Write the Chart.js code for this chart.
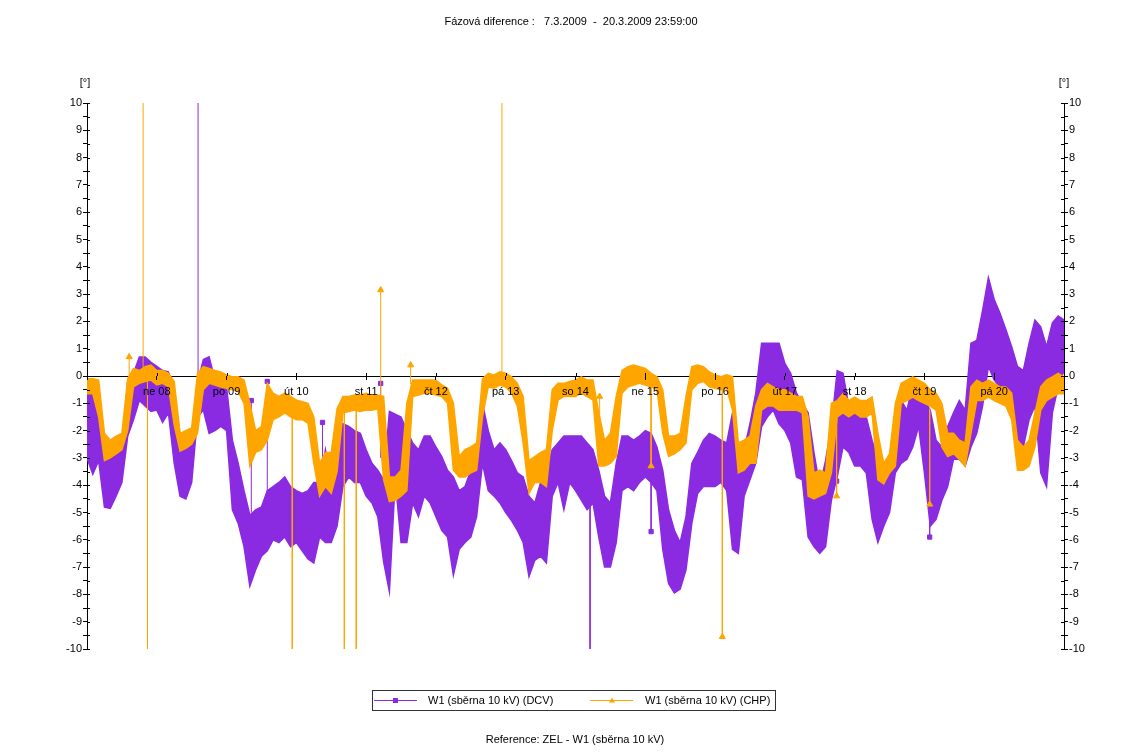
<!DOCTYPE html>
<html lang="cs">
<head>
<meta charset="utf-8">
<title>Fázová diference</title>
<script src="https://cdn.jsdelivr.net/npm/chart.js@4.4.1/dist/chart.umd.min.js"></script>
<style>
    html, body { margin: 0; padding: 0; background: #ffffff; }
    #wrap { position: relative; width: 1135px; height: 754px; }
</style>
</head>
<body>
<div id="wrap"><canvas id="phaseChart" width="1135" height="754"></canvas></div>
<script>
// Sampling step of the band arrays (hours from 7.3.2009 00:00)
const STEP_HOURS = 2;
const HOURS_TOTAL = 336;

// Day labels at every midnight (first and last tick unlabeled)
const dayLabels = ['', 'ne 08', 'po 09', 'út 10', 'st 11', 'čt 12', 'pá 13', 'so 14',
    'ne 15', 'po 16', 'út 17', 'st 18', 'čt 19', 'pá 20', ''];

// W1 (CHP) - upper / lower edge of the band, one row per day (12 x 2h)
const chpHigh = [
    -0.1, -0.1, -0.15, -2.1, -2.35, -2.2, -2.1, -0.1, 0.28, 0.2, 0.34, 0.4,
    0.2, 0.2, 0.1, -0.2, -2.1, -2.0, -1.9, 0.1, 0.34, 0.28, 0.2, 0.15,
    0.04, -0.03, -0.03, -0.15, -1.0, -2.0, -1.85, -0.27, -0.63, -0.75, -0.63, -0.75,
    -0.88, -0.94, -1.0, -1.5, -3.2, -2.8, -2.8, -1.2, -0.75, -0.75, -0.7, -0.7,
    -0.63, -0.7, -0.7, -0.75, -3.7, -3.7, -3.45, -1.0, -0.15, -0.15, -0.15, -0.15,
    -0.15, -0.33, -0.45, -1.0, -2.95, -2.7, -2.6, -2.45, -0.1, 0.1, 0.04, 0.15,
    0.1, -0.03, -0.27, -0.75, -3.1, -2.95, -2.8, -2.7, -0.5, -0.27, -0.27, -0.2,
    -0.15, -0.03, -0.15, -0.15, -1.35, -2.35, -2.1, -0.75, 0.2, 0.34, 0.4, 0.34,
    0.28, 0.1, -0.03, -0.5, -2.2, -2.2, -2.1, -0.75, 0.34, 0.4, 0.34, 0.15,
    0.04, -0.03, 0.04, -0.03, -2.45, -2.35, -2.2, -1.1, -0.5, -0.27, -0.4, -0.5,
    -0.5, -0.63, -0.75, -0.75, -1.5, -3.55, -3.45, -3.55, -1.0, -0.9, -0.65, -0.9,
    -0.77, -0.9, -0.9, -0.77, -2.1, -3.2, -2.85, -1.0, -0.27, -0.15, -0.03, -0.15,
    -0.27, -0.5, -0.63, -1.0, -2.1, -2.1, -2.35, -2.45, -0.4, -0.15, -0.27, -0.15,
    -0.27, -0.4, -0.4, -0.63, -2.35, -2.6, -2.35, -1.35, -0.4, -0.15, -0.03, 0.1,
    -0.03
];
const chpLow = [
    -0.65, -0.65, -1.5, -3.1, -3.0, -2.85, -2.7, -2.0, -0.4, -0.27, -0.2, -0.15,
    -0.33, -0.27, -0.4, -1.8, -2.75, -2.65, -2.5, -2.1, -0.5, -0.27, -0.33, -0.4,
    -0.45, -0.5, -0.57, -1.0, -3.3, -2.8, -2.7, -2.35, -1.6, -1.5, -1.35, -1.5,
    -1.6, -1.6, -1.73, -3.2, -4.4, -4.05, -4.3, -3.5, -1.35, -1.3, -1.25, -1.3,
    -1.25, -1.25, -1.2, -3.8, -4.6, -4.55, -4.4, -4.2, -0.75, -0.7, -0.63, -0.63,
    -0.7, -0.75, -1.0, -3.45, -3.7, -3.7, -3.55, -3.45, -1.5, -0.4, -0.45, -0.33,
    -0.4, -0.63, -1.1, -2.45, -4.3, -3.9, -3.9, -4.05, -2.0, -0.88, -0.75, -0.75,
    -0.75, -0.63, -0.75, -0.88, -3.3, -3.3, -3.2, -2.95, -0.63, -0.4, -0.33, -0.27,
    -0.33, -0.4, -0.5, -2.1, -2.95, -2.85, -2.7, -2.45, -0.5, -0.27, -0.2, -0.4,
    -0.45, -0.5, -0.45, -1.25, -3.55, -3.45, -3.2, -3.2, -1.25, -1.1, -1.1, -1.25,
    -1.25, -1.25, -1.25, -1.35, -4.4, -4.5, -4.4, -4.3, -3.55, -1.5, -1.35, -1.5,
    -1.35, -1.5, -1.5, -1.35, -3.8, -3.95, -3.55, -3.3, -1.0, -0.9, -0.77, -0.9,
    -1.0, -1.1, -1.25, -2.6, -2.95, -2.85, -3.05, -3.3, -2.1, -0.9, -0.9, -0.77,
    -0.9, -1.0, -1.1, -1.6, -3.45, -3.45, -3.3, -2.6, -1.25, -0.9, -0.77, -0.65,
    -0.65
];

// W1 (DCV) - upper / lower edge of the band
const dcvHigh = [
    -0.6, -0.6, -0.75, -2.3, -2.95, -2.7, -2.6, -0.2, 0.1, 0.7, 0.7, 0.5,
    0.35, 0.2, 0.15, -0.5, -2.2, -2.35, -2.2, -0.27, 0.6, 0.7, -0.15, -0.27,
    -0.4, -2.35, -3.2, -4.2, -5.1, -4.9, -4.8, -4.2, -4.05, -3.9, -3.7, -4.05,
    -4.2, -4.3, -4.2, -3.9, -3.9, -2.7, -3.9, -2.0, -1.75, -1.85, -2.0, -2.1,
    -2.7, -3.2, -3.45, -3.8, -1.3, -1.4, -1.5, -2.0, -2.45, -2.7, -2.2, -2.2,
    -2.6, -2.95, -3.45, -3.7, -4.2, -4.05, -3.45, -2.95, -1.0, -2.0, -2.7, -2.45,
    -2.7, -3.1, -3.55, -3.7, -4.4, -4.65, -3.9, -3.45, -2.7, -2.45, -2.2, -2.2,
    -2.2, -2.2, -2.45, -2.7, -3.45, -4.4, -4.65, -3.2, -2.2, -2.2, -2.35, -2.2,
    -2.0, -2.1, -2.6, -3.45, -4.9, -5.65, -6.1, -5.15, -3.2, -2.8, -2.35, -2.1,
    -2.2, -2.35, -2.45, -1.35, -3.2, -2.7, -1.75, -0.63, 1.2, 1.2, 1.2, 1.2,
    0.46, 0.1, -0.63, -1.0, -1.35, -2.8, -4.05, -3.1, -1.85, 0.2, 0.1, -1.1,
    -1.35, -1.1, -1.5, -2.35, -3.1, -3.35, -3.1, -1.85, -0.9, -1.25, -0.27, -0.4,
    -0.9, -1.25, -2.35, -2.6, -1.85, -1.35, -0.9, -1.25, 1.2, 1.3, 2.4, 3.6,
    2.8, 2.3, 1.7, 1.07, 0.35, 0.2, 1.2, 2.05, 1.8, 1.07, 1.95, 2.2,
    2.05
];
const dcvLow = [
    -3.0, -3.6, -3.1, -4.8, -4.85, -4.4, -3.9, -2.2, -1.6, -0.9, -1.1, -1.3,
    -1.25, -1.7, -1.35, -3.2, -4.4, -4.5, -3.9, -1.5, -1.25, -2.1, -2.0, -1.85,
    -2.0, -4.9, -5.4, -6.25, -7.7, -7.1, -6.6, -6.4, -6.0, -6.1, -5.9, -6.25,
    -6.1, -6.4, -6.7, -6.85, -5.9, -6.1, -6.1, -5.5, -4.05, -3.7, -3.9, -3.9,
    -4.4, -4.65, -5.15, -6.8, -7.9, -3.8, -6.1, -6.1, -4.65, -5.15, -4.4, -4.65,
    -5.15, -5.65, -5.9, -7.3, -6.35, -6.1, -5.9, -5.15, -3.2, -4.2, -4.4, -4.65,
    -5.0, -5.3, -5.65, -6.1, -7.35, -6.75, -6.6, -6.85, -4.4, -3.9, -4.9, -3.9,
    -4.2, -4.55, -4.9, -4.65, -5.9, -7.0, -7.0, -6.1, -4.2, -4.05, -4.2, -3.9,
    -3.7, -3.9, -4.2, -6.35, -7.6, -7.95, -7.8, -7.1, -5.4, -4.3, -4.05, -4.05,
    -4.05, -3.9, -4.2, -6.35, -6.5, -4.4, -3.8, -3.2, -1.85, -1.5, -1.25, -1.75,
    -2.0, -2.45, -3.7, -3.8, -5.9, -6.25, -6.5, -6.25, -4.55, -3.7, -2.6, -2.8,
    -3.3, -3.3, -3.55, -5.25, -6.1, -5.5, -5.0, -3.55, -3.2, -3.05, -2.6, -1.85,
    -3.55, -5.5, -5.25, -4.55, -4.05, -3.05, -3.05, -3.3, -2.6, -2.1, -1.1, 0.35,
    -0.15, -0.4, -0.9, -1.35, -2.35, -2.6, -1.6, -1.1, -3.55, -4.05, -1.35, -0.4,
    0.2
];

// Single-sample outliers (hour, value at band, outlier value)
const chpSpikeHour = [14.5, 19.3, 20.8, 70.6, 88.5, 92.6, 101.0, 111.3, 142.7, 176.3, 194.0, 218.5, 257.8, 289.8];
const chpSpikeBase = [0.0, 0.2, -0.2, -1.2, -1.0, -1.0, -1.0, -0.3, 0.0, -3.0, -0.3, -0.5, -1.2, -1.2];
const chpSpikeTip = [0.7, 10, -10, -10, -10, -10, 3.15, 0.4, 10, -0.75, -3.3, -9.55, -4.4, -4.7];

const dcvSpikeHour = [38.2, 56.5, 62.0, 81.0, 101.0, 173.0, 194.0, 257.8, 289.8];
const dcvSpikeBase = [0.0, -5.0, -4.5, -4.0, -3.0, -3.0, -3.0, -2.0, -3.0];
const dcvSpikeTip = [10, -0.9, -0.2, -1.7, -0.27, -10, -5.7, -3.85, -5.9];

const DCV_COLOR = '#8a2be2';
const CHP_COLOR = '#ffa500';
const AXIS_COLOR = '#000000';
const FONT_FAMILY = "'Liberation Sans', Arial, sans-serif";

/**
 * Turn an array of band values into {x, y} points
 */
function toPoints(values) {
    return values.map((v, i) => ({ x: i * STEP_HOURS, y: v }));
}

/**
 * Build outlier segments separated by null gaps
 */
function buildSpikes(hours, base, tip) {
    const pts = [];
    hours.forEach((h, i) => {
        pts.push({ x: h, y: base[i] });
        pts.push({ x: h, y: tip[i], tip: true });
        pts.push({ x: h, y: null });
    });
    return pts;
}

/**
 * Marker radius only on visible outlier tips
 */
function tipRadius(size) {
    return function(ctx) {
        const raw = ctx.raw;
        if (raw && raw.tip && Math.abs(raw.y) < 10) return size;
        return 0;
    };
}

// Zero line under the data, titles, legend and tick crosses on top
const decorationsPlugin = {
    id: 'decorations',
    beforeDatasetsDraw(chart) {
        const ctx = chart.ctx;
        const area = chart.chartArea;
        const y0 = Math.round(chart.scales.y.getPixelForValue(0)) + 0.5;
        ctx.save();
        ctx.strokeStyle = AXIS_COLOR;
        ctx.lineWidth = 1;
        ctx.beginPath();
        ctx.moveTo(area.left, y0);
        ctx.lineTo(area.right, y0);
        ctx.stroke();
        ctx.restore();
    },
    afterDraw(chart) {
        const ctx = chart.ctx;
        const area = chart.chartArea;
        ctx.save();
        ctx.fillStyle = '#000';
        ctx.font = '11px ' + FONT_FAMILY;
        ctx.textAlign = 'center';
        ctx.textBaseline = 'middle';
        ctx.fillText('Fázová diference :   7.3.2009  -  20.3.2009 23:59:00', 571, 22);
        ctx.fillText('[°]', area.left - 2, 83);
        ctx.fillText('[°]', area.right, 83);
        ctx.fillText('Reference: ZEL - W1 (sběrna 10 kV)', 575, 740);

        // tick marks crossing into the plot
        ctx.strokeStyle = AXIS_COLOR;
        ctx.lineWidth = 1;
        const yScale = chart.scales.y;
        yScale.ticks.forEach(t => {
            const py = Math.round(yScale.getPixelForValue(t.value)) + 0.5;
            ctx.beginPath();
            ctx.moveTo(area.left, py);
            ctx.lineTo(area.left + 3, py);
            ctx.moveTo(area.right, py);
            ctx.lineTo(area.right - 3, py);
            ctx.stroke();
        });
        const xScale = chart.scales.x;
        const y0 = Math.round(yScale.getPixelForValue(0));
        xScale.ticks.forEach(t => {
            const px = Math.round(xScale.getPixelForValue(t.value)) + 0.5;
            ctx.beginPath();
            ctx.moveTo(px, y0);
            ctx.lineTo(px, y0 - 3);
            ctx.stroke();
        });

        // legend box
        const lx = 372.5, ly = 690.5, lw = 403, lh = 20;
        ctx.strokeStyle = '#333';
        ctx.strokeRect(lx, ly, lw, lh);
        const my = ly + lh / 2;
        ctx.lineWidth = 1;
        ctx.strokeStyle = DCV_COLOR;
        ctx.beginPath();
        ctx.moveTo(374, my);
        ctx.lineTo(417, my);
        ctx.stroke();
        ctx.fillStyle = DCV_COLOR;
        ctx.fillRect(393, my - 2.5, 5, 5);
        ctx.strokeStyle = CHP_COLOR;
        ctx.beginPath();
        ctx.moveTo(590, my);
        ctx.lineTo(633, my);
        ctx.stroke();
        ctx.fillStyle = CHP_COLOR;
        ctx.beginPath();
        ctx.moveTo(612, my - 3);
        ctx.lineTo(615, my + 2);
        ctx.lineTo(609, my + 2);
        ctx.closePath();
        ctx.fill();
        ctx.fillStyle = '#000';
        ctx.textAlign = 'left';
        ctx.fillText('W1 (sběrna 10 kV) (DCV)', 428, my);
        ctx.fillText('W1 (sběrna 10 kV) (CHP)', 645, my);
        ctx.restore();
    }
};

/**
 * Create the phase difference chart
 */
function initializePhaseChart() {
    const canvas = document.getElementById('phaseChart');
    Chart.defaults.font.family = FONT_FAMILY;
    Chart.defaults.font.size = 11;
    Chart.defaults.color = '#000';

    const datasets = [
        {
            label: 'W1 (sběrna 10 kV) (CHP) spikes',
            data: buildSpikes(chpSpikeHour, chpSpikeBase, chpSpikeTip),
            borderColor: CHP_COLOR,
            backgroundColor: CHP_COLOR,
            borderWidth: 1,
            pointStyle: 'triangle',
            pointRadius: tipRadius(3.5),
            spanGaps: false
        },
        {
            label: 'chp-high',
            data: toPoints(chpHigh),
            borderColor: CHP_COLOR,
            borderWidth: 1.5,
            pointRadius: 0,
            fill: false
        },
        {
            label: 'W1 (sběrna 10 kV) (CHP)',
            data: toPoints(chpLow),
            borderColor: CHP_COLOR,
            backgroundColor: CHP_COLOR,
            borderWidth: 1.5,
            pointRadius: 0,
            fill: 1
        },
        {
            label: 'W1 (sběrna 10 kV) (DCV) spikes',
            data: buildSpikes(dcvSpikeHour, dcvSpikeBase, dcvSpikeTip),
            borderColor: DCV_COLOR,
            backgroundColor: DCV_COLOR,
            borderWidth: 1,
            pointStyle: 'rect',
            pointRadius: tipRadius(3),
            spanGaps: false
        },
        {
            label: 'dcv-high',
            data: toPoints(dcvHigh),
            borderColor: DCV_COLOR,
            borderWidth: 1.5,
            pointRadius: 0,
            fill: false
        },
        {
            label: 'W1 (sběrna 10 kV) (DCV)',
            data: toPoints(dcvLow),
            borderColor: DCV_COLOR,
            backgroundColor: DCV_COLOR,
            borderWidth: 1.5,
            pointRadius: 0,
            fill: 4
        }
    ];

    const yTicks = {
        stepSize: 0.5,
        autoSkip: false,
        padding: 1,
        color: '#000',
        font: { size: 11 },
        callback: v => (Number.isInteger(v) ? String(v) : '')
    };

    return new Chart(canvas, {
        type: 'line',
        data: { datasets: datasets },
        options: {
            responsive: false,
            animation: false,
            devicePixelRatio: 1,
            layout: { padding: { top: 103, bottom: 105, left: 0, right: 0 } },
            elements: { line: { tension: 0 } },
            plugins: {
                legend: { display: false },
                title: { display: false },
                tooltip: { enabled: false }
            },
            scales: {
                x: {
                    type: 'linear',
                    position: { y: 0 },
                    min: 0,
                    max: HOURS_TOTAL,
                    border: { display: false },
                    grid: { drawOnChartArea: false, tickLength: 4, color: AXIS_COLOR, z: 1 },
                    ticks: {
                        z: 1,
                        stepSize: 24,
                        autoSkip: false,
                        maxRotation: 0,
                        padding: 5,
                        color: '#000',
                        callback: v => dayLabels[Math.round(v / 24)] || ''
                    }
                },
                y: {
                    position: 'left',
                    min: -10,
                    max: 10,
                    afterFit: scale => { scale.width = 87; },
                    border: { color: AXIS_COLOR, width: 1 },
                    grid: { drawOnChartArea: false, tickLength: 4, color: AXIS_COLOR },
                    ticks: yTicks
                },
                y2: {
                    position: 'right',
                    min: -10,
                    max: 10,
                    afterFit: scale => { scale.width = 71; },
                    border: { color: AXIS_COLOR, width: 1 },
                    grid: { drawOnChartArea: false, tickLength: 4, color: AXIS_COLOR },
                    ticks: yTicks
                }
            }
        },
        plugins: [decorationsPlugin]
    });
}

document.addEventListener('DOMContentLoaded', function() {
    initializePhaseChart();
});
</script>
</body>
</html>
